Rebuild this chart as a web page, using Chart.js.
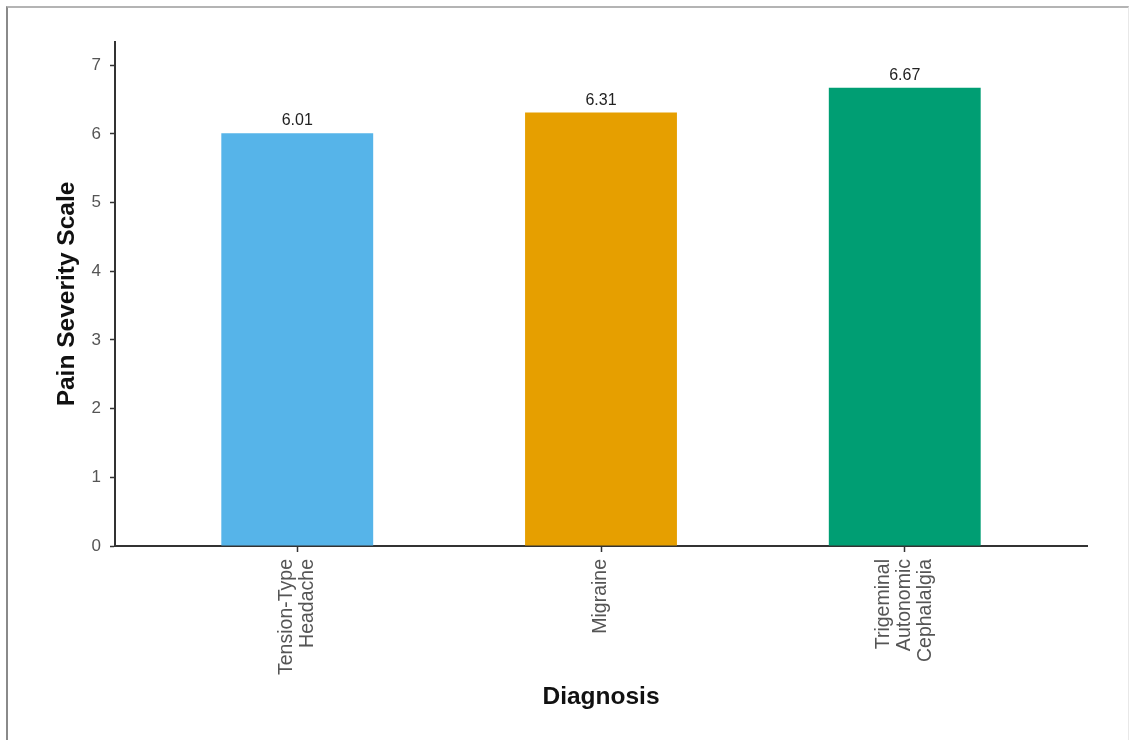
<!DOCTYPE html>
<html>
<head>
<meta charset="utf-8">
<script src="https://cdn.jsdelivr.net/npm/chart.js@4.4.1/dist/chart.umd.min.js"></script>
<style>
  html, body { margin: 0; padding: 0; background: #ffffff; }
  #wrap { position: relative; width: 1131px; height: 740px; overflow: hidden; }
  #c { position: absolute; left: 0; top: 0; }
  #frame {
    position: absolute; left: 6px; top: 6px; width: 1120px; height: 760px;
    border-left: 2px solid #8a8a8a; border-top: 2px solid #b4b4b4; border-right: 1px solid #e8e8e8;
    pointer-events: none;
  }
</style>
</head>
<body>
<div id="wrap">
  <canvas id="c" width="1131" height="740"></canvas>
  <div id="frame"></div>
</div>
<script>
// ---- data ----
const categories = [["Tension-Type", "Headache"], ["Migraine"], ["Trigeminal", "Autonomic", "Cephalalgia"]];
const positions = [1, 2, 3];
const painSeverity = [6.01, 6.31, 6.67];
const barColors = ["#56B4E9", "#E69F00", "#009E73"];
const yTickValues = [0, 1, 2, 3, 4, 5, 6, 7];
const yMax = 7.337;

const FONT = "'Liberation Sans', Arial, Helvetica, sans-serif";
const xTickFontSize = 19.5;
const xTickLineStep = 21;          // distance between label lines
const slot = xTickLineStep / 2;    // half-line slots so every label block is centred on its tick
const centreSlot = 2;

// Build slot-padded labels (blank half-lines) so each multi-line label is centred on its tick
const slottedLabels = categories.map(lines => {
  const n = lines.length;
  const first = centreSlot - (n - 1);
  const out = [];
  for (let k = 0; k < first; k++) out.push("");
  lines.forEach((l, i) => { out.push(l); if (i < n - 1) out.push(""); });
  return out;
});

const valueLabels = {
  id: 'valueLabels',
  afterDatasetsDraw(chart) {
    const ctx = chart.ctx;
    const meta = chart.getDatasetMeta(0);
    ctx.save();
    ctx.font = "16px " + FONT;
    ctx.fillStyle = "#222222";
    ctx.textAlign = "center";
    ctx.textBaseline = "alphabetic";
    meta.data.forEach((bar, i) => {
      ctx.fillText(painSeverity[i].toFixed(2), bar.x, bar.y - 8);
    });
    ctx.restore();
  }
};

new Chart(document.getElementById('c'), {
  type: 'bar',
  data: {
    datasets: [{
      data: positions.map((p, i) => ({ x: p, y: painSeverity[i] })),
      backgroundColor: barColors,
      borderWidth: 0,
      categoryPercentage: 1.0,
      barPercentage: 0.5
    }]
  },
  options: {
    responsive: false,
    devicePixelRatio: 1,
    animation: false,
    layout: { padding: { top: 42, right: 44, left: 0, bottom: 0 } },
    plugins: { legend: { display: false }, tooltip: { enabled: false } },
    scales: {
      x: {
        type: 'linear',
        min: 0.4,
        max: 3.6,
        offset: false,
        afterFit: (s) => { s.height = 194; },
        afterBuildTicks: (s) => { s.ticks = positions.map(v => ({ value: v })); },
        grid: { offset: false, drawOnChartArea: false, drawTicks: true, tickLength: 6, tickColor: '#333333', tickWidth: 1.5 },
        border: { display: true, color: '#333333', width: 2 },
        ticks: {
          autoSkip: false,
          minRotation: 90,
          maxRotation: 90,
          padding: 7,
          color: '#555555',
          font: { family: FONT, size: xTickFontSize, lineHeight: slot / xTickFontSize },
          labelOffset: -centreSlot * slot,
          callback: (value, index) => slottedLabels[index]
        },
        title: {
          display: true,
          text: 'Diagnosis',
          color: '#111111',
          font: { family: FONT, size: 24.5, weight: 'bold', lineHeight: 1.2 },
          padding: { top: 0, bottom: 28 }
        }
      },
      y: {
        min: 0,
        max: yMax,
        afterFit: (s) => { s.width = 115; },
        afterBuildTicks: (s) => { s.ticks = yTickValues.map(v => ({ value: v })); },
        grid: { drawOnChartArea: false, drawTicks: true, tickLength: 5, tickColor: '#333333', tickWidth: 1.5 },
        border: { display: true, color: '#333333', width: 2 },
        ticks: {
          padding: 9,
          color: '#555555',
          font: { family: FONT, size: 17 },
          callback: (v) => String(v)
        },
        title: {
          display: true,
          text: 'Pain Severity Scale',
          color: '#111111',
          font: { family: FONT, size: 24.5, weight: 'bold', lineHeight: 1.2 },
          padding: { top: 53, bottom: 0 }
        }
      }
    }
  },
  plugins: [valueLabels]
});
</script>
</body>
</html>
